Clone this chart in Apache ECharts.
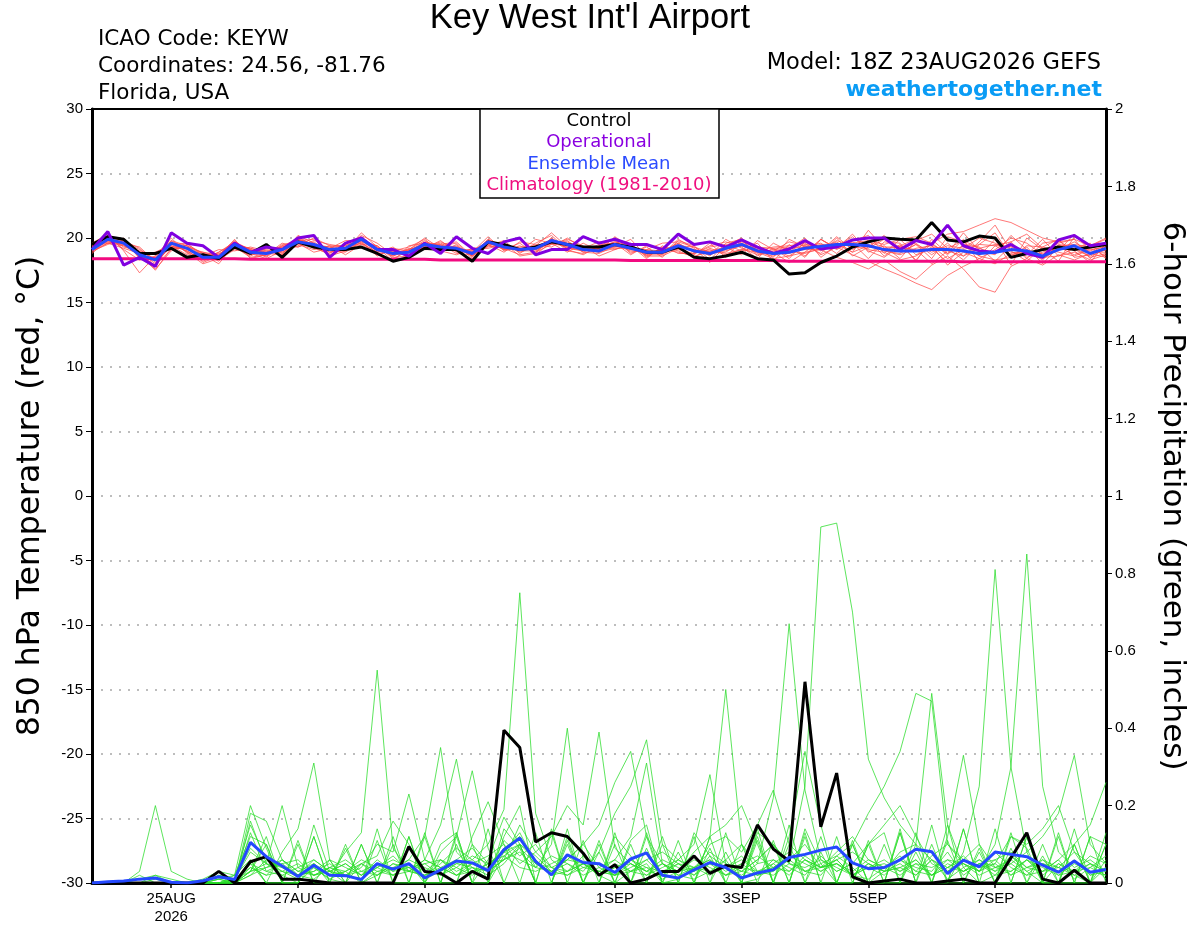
<!DOCTYPE html>
<html>
<head>
<meta charset="utf-8">
<script src="https://cdn.jsdelivr.net/npm/echarts@6/dist/echarts.min.js"></script>
<style>
  html, body { margin: 0; padding: 0; background: #fff; }
  #chart { width: 1200px; height: 927px; }
</style>
</head>
<body>
<div id="chart"></div>
<script>
// Forecast hours from 18Z 23AUG2026, every 6 hours (65 steps)
const forecastHours = Array.from({ length: 65 }, (_, i) => i * 6);
const dayTickIndex = [5, 13, 21, 33, 41, 49, 57];
const dayTickLabels = ['25AUG\n2026', '27AUG', '29AUG', '1SEP', '3SEP', '5SEP', '7SEP'];

// 850 hPa temperature (deg C)
const controlTemp = [
  19.5,20.1,19.9,18.8,18.8,19.2,18.5,18.7,18.4,19.3,
  18.8,19.5,18.5,19.7,19.3,19.1,19.1,19.3,18.8,18.2,
  18.5,19.2,19.1,19.1,18.2,19.7,19.5,19.1,19.3,19.7,
  19.5,19.3,19.3,19.5,19.3,18.9,18.9,19.3,18.5,18.4,
  18.6,18.9,18.4,18.3,17.2,17.3,18.1,18.6,19.3,19.7,
  20.0,19.9,19.85,21.2,19.85,19.7,20.15,20.0,18.5,18.8,
  19.1,19.3,19.1,19.3,19.5
];
const operationalTemp = [
  19.1,20.5,17.9,18.5,17.8,20.4,19.6,19.4,18.5,19.6,
  18.9,19.3,19.1,20.0,20.2,18.5,19.6,20.0,19.1,19.1,
  18.6,19.6,18.8,20.1,19.2,18.8,19.7,20.0,18.7,19.1,
  19.1,20.1,19.6,19.9,19.5,19.5,19.1,20.3,19.5,19.7,
  19.3,19.85,19.3,18.8,19.15,19.8,19.15,19.3,19.85,20.0,
  20.0,19.1,19.8,19.5,21.0,19.4,19.0,18.9,19.5,18.8,
  18.5,19.85,20.2,19.4,19.6
];
const meanTemp = [
  19.1,19.9,19.6,18.7,18.3,19.6,19.2,18.5,18.5,19.5,
  18.9,18.8,19.1,19.7,19.5,19.1,19.2,19.9,19.1,18.8,
  18.9,19.5,19.3,19.2,18.8,19.7,19.3,19.1,19.2,19.8,
  19.5,19.1,19.0,19.5,19.2,18.9,18.9,19.4,19.0,18.8,
  19.2,19.5,19.0,18.8,18.9,19.2,19.35,19.5,19.5,19.4,
  19.1,19.0,19.0,19.1,19.1,19.0,18.8,18.9,19.1,19.0,
  18.6,19.1,19.4,18.8,19.2
];
const climTemp = [
  18.4,18.4,18.4,18.4,18.4,18.4,18.4,18.4,18.4,18.4,
  18.35,18.35,18.35,18.35,18.35,18.35,18.35,18.35,18.35,18.35,
  18.35,18.35,18.3,18.3,18.3,18.3,18.3,18.3,18.3,18.3,
  18.3,18.3,18.3,18.3,18.25,18.25,18.25,18.25,18.25,18.25,
  18.25,18.25,18.25,18.25,18.2,18.2,18.2,18.2,18.2,18.2,
  18.2,18.2,18.2,18.2,18.2,18.15,18.15,18.15,18.15,18.15,
  18.15,18.15,18.15,18.15,18.15
];
const memberTemp01 = [19.3,19.8,19.4,18.9,18.0,19.4,19.0,18.3,18.9,19.7,19.1,18.5,19.4,19.9,19.2,18.8,19.6,20.1,18.7,19.0,19.3,19.9,18.9,19.5,18.4,19.4,19.8,18.8,19.6,20.2,19.1,18.7,19.4,19.9,18.8,19.3,18.5,19.8,19.4,18.3,19.6,19.9,18.6,19.2,18.4,19.7,19.0,20.1,19.1,19.8,18.6,19.5,18.3,19.6,18.7,19.9,18.1,19.4,19.7,18.5,18.9,19.6,19.9,18.4,19.5];
const memberTemp02 = [19.0,19.5,20.0,18.5,17.6,19.0,19.5,18.8,18.2,19.3,18.6,19.2,18.9,19.4,20.0,19.4,18.7,19.5,19.4,18.5,18.6,19.2,19.8,18.9,18.9,20.1,19.0,19.4,18.9,19.5,19.9,19.4,18.6,19.1,19.6,18.5,19.3,19.0,18.5,19.2,18.8,19.1,19.6,18.2,19.5,18.6,19.9,19.2,20.3,18.9,19.4,18.4,19.8,20.3,19.2,18.3,19.5,20.4,18.6,19.3,18.0,19.3,18.7,19.2,18.6];
const memberTemp03 = [19.4,20.2,19.1,18.3,18.6,20.0,18.8,18.6,19.1,19.0,19.3,19.0,18.7,20.2,19.6,18.6,19.0,20.4,19.3,18.2,19.4,19.6,19.5,19.7,18.6,19.5,18.9,19.7,19.5,19.3,20.0,19.2,19.7,19.8,18.9,19.1,19.6,19.7,19.3,18.6,19.9,19.2,18.7,19.0,19.7,19.4,18.8,20.0,18.6,19.3,20.2,18.9,19.5,18.4,20.1,19.7,18.6,19.9,17.9,20.0,19.1,18.2,20.1,19.4,19.9];
const memberTemp04 = [18.9,19.6,19.8,19.2,18.1,19.3,19.4,18.1,18.6,19.9,18.4,18.7,19.6,19.3,19.8,19.5,19.3,19.6,18.9,19.3,18.4,19.4,19.0,18.7,19.2,19.3,19.6,18.6,18.8,20.0,19.0,18.8,19.2,19.3,19.9,18.6,18.6,19.2,18.7,19.6,18.5,19.8,19.3,18.9,18.1,18.9,19.9,19.1,19.8,20.2,18.8,19.9,18.7,19.2,18.1,19.5,19.3,18.2,19.4,18.4,19.6,19.8,19.0,18.1,19.6];
const memberTemp05 = [19.2,20.0,19.3,19.0,18.4,19.8,19.1,18.7,18.0,19.5,19.2,18.9,19.3,19.6,18.9,19.2,19.8,19.8,19.0,18.9,19.1,20.0,19.2,19.3,18.6,19.9,19.4,19.0,19.9,19.6,18.9,19.6,19.0,20.1,19.3,18.8,19.0,19.6,18.9,19.0,19.3,18.7,19.8,19.1,19.2,20.0,18.5,19.4,19.6,18.4,19.7,19.6,18.2,19.9,18.8,20.4,19.0,18.7,20.2,19.1,18.4,19.1,19.7,18.9,18.9];
const memberTemp06 = [19.5,19.7,19.5,18.6,17.9,19.1,19.3,18.9,18.7,19.8,18.8,18.4,19.0,20.0,19.4,18.9,19.1,20.2,19.6,18.7,18.8,19.3,19.6,19.0,19.0,19.6,19.2,19.3,19.4,20.4,19.3,19.0,19.5,19.6,18.7,19.4,19.2,19.3,19.1,18.9,19.1,19.6,19.1,18.5,19.9,19.3,19.6,18.8,19.9,19.5,19.0,18.8,19.5,18.9,19.4,19.2,20.0,19.6,18.9,18.7,19.9,18.6,19.2,19.6,18.4];
const memberTemp07 = [19.1,20.1,19.9,18.4,18.5,19.7,18.9,18.0,18.4,19.4,19.0,19.1,18.8,19.8,19.9,19.0,18.9,19.7,18.6,19.2,19.0,19.7,19.4,19.6,18.5,19.8,19.1,19.6,18.7,19.7,19.6,18.9,18.8,19.4,19.4,18.4,19.4,18.8,18.8,19.4,19.7,19.3,18.4,19.6,19.0,18.8,19.2,19.7,18.9,20.6,19.2,19.3,19.1,18.0,19.0,18.6,19.7,21.0,19.0,18.2,19.3,19.9,18.5,18.7,19.3];
const memberTemp08 = [18.8,19.9,19.6,19.3,18.2,19.5,19.6,18.6,18.8,19.2,18.7,19.3,19.2,19.5,19.1,19.4,19.4,19.9,19.2,18.6,19.2,19.1,19.1,19.1,19.1,19.2,19.5,18.9,19.3,19.9,19.4,19.3,19.3,19.7,19.1,19.0,18.7,19.9,19.2,18.1,19.4,20.0,19.0,19.3,19.4,19.6,18.7,19.3,20.1,19.0,18.5,19.4,19.9,19.4,17.9,18.9,18.4,19.1,20.0,19.6,18.7,19.4,19.5,19.3,19.0];
const memberTemp09 = [19.3,19.6,19.2,18.8,17.5,19.2,19.2,18.4,18.5,19.6,19.1,18.6,19.5,19.6,19.3,18.7,19.2,19.6,18.9,19.1,18.7,19.5,19.3,19.2,18.8,19.6,19.3,19.2,19.1,19.8,19.2,19.1,18.9,19.2,19.2,18.7,19.1,18.9,18.6,18.9,19.0,19.4,18.9,18.4,18.6,18.9,19.1,18.5,18.1,17.6,18.3,17.4,16.8,17.9,18.6,17.6,16.2,15.8,17.8,18.4,17.9,18.7,18.3,18.8,18.5];
const memberTemp10 = [19.0,19.8,19.7,18.5,18.3,19.4,18.7,18.5,18.3,19.1,18.9,19.0,19.0,19.9,19.5,19.3,19.0,19.8,19.4,18.4,19.0,19.4,19.5,18.8,18.7,19.9,19.1,19.1,19.3,19.6,19.7,19.1,19.1,19.5,19.0,18.9,18.8,19.5,18.9,19.1,18.7,19.1,18.9,18.6,19.1,19.5,19.4,19.3,18.7,18.2,17.6,17.1,16.5,16.0,17.1,17.8,18.4,18.0,18.8,19.1,18.5,18.6,18.9,18.3,18.7];
const memberTemp11 = [19.4,19.9,19.8,18.9,18.7,19.6,19.4,18.6,18.6,19.5,19.0,18.9,19.1,19.6,19.6,19.0,19.2,19.9,19.0,18.8,19.0,19.6,19.2,19.3,18.9,19.6,19.4,19.0,19.0,19.7,19.5,19.1,19.1,19.4,19.1,19.1,19.0,19.4,19.0,18.7,19.2,19.5,19.1,18.8,18.8,19.2,19.5,19.5,19.6,19.8,19.5,19.9,20.1,19.6,20.3,20.5,21.0,21.5,21.2,20.6,20.0,19.7,19.9,19.4,20.0];
const memberTemp12 = [19.2,19.7,19.5,18.7,18.9,19.5,19.0,18.2,18.7,19.7,18.8,18.6,19.3,19.8,19.3,19.2,19.0,20.0,19.1,18.9,18.9,19.4,19.4,19.0,18.9,19.8,19.2,19.2,19.2,19.9,19.4,19.2,19.2,19.3,19.3,18.8,18.9,19.4,19.1,18.7,19.2,19.4,19.0,18.9,19.2,19.3,19.3,19.6,19.3,19.2,19.9,19.3,19.0,19.5,18.8,19.4,18.6,18.3,18.5,19.4,19.3,19.0,20.3,19.0,19.4];
const memberTemp13 = [19.6,20.3,19.0,17.3,18.6,19.8,19.4,18.8,18.6,19.4,19.2,18.8,18.7,20.1,19.4,19.1,19.5,19.7,19.2,18.6,19.1,19.5,19.1,19.4,18.6,19.5,19.5,19.0,19.4,19.5,19.8,18.9,19.4,19.1,19.5,18.6,19.2,19.1,18.8,19.3,19.5,19.0,19.3,19.2,19.3,18.5,19.9,19.2,19.7,19.1,18.9,18.3,18.6,19.3,19.2,19.8,19.2,18.8,19.7,20.3,19.2,18.9,18.6,19.1,19.3];
const memberTemp14 = [19.0,19.6,19.4,18.8,17.8,19.7,18.9,18.9,18.5,19.3,18.5,18.7,19.4,19.3,19.7,18.9,19.1,19.5,18.8,19.0,18.7,19.3,19.7,19.2,18.7,19.4,19.2,18.7,18.9,20.0,19.2,19.0,19.2,19.7,19.4,18.7,18.7,19.4,19.3,18.9,18.9,19.7,19.2,18.7,19.0,19.1,19.1,19.8,19.4,19.7,19.3,19.3,19.6,18.7,19.6,18.6,19.2,19.5,19.3,18.8,18.8,19.2,19.1,18.6,19.1];
const memberTemp15 = [19.3,19.8,19.7,19.1,18.3,19.3,19.2,18.4,18.9,19.6,19.1,18.8,18.9,19.9,19.4,19.3,19.4,19.8,19.3,18.7,19.1,19.8,19.0,19.1,19.0,19.7,19.1,19.2,19.1,19.6,19.3,19.2,18.9,19.6,19.2,19.0,18.9,19.6,18.9,18.8,19.3,19.5,18.8,19.1,18.6,19.4,19.3,19.5,18.9,19.4,19.0,18.7,19.2,19.4,18.4,19.1,19.5,19.4,18.7,19.0,18.3,19.5,19.3,18.5,18.8];

// 6-hour precipitation (inches)
const controlPrecip = [
  0,0,0,0,0,0,0,0,0.03,0,
  0.055,0.068,0.01,0.01,0.005,0,0,0,0,0,
  0.094,0.03,0.025,0,0.03,0.01,0.395,0.35,0.106,0.13,
  0.12,0.077,0.02,0.047,0,0.01,0.03,0.03,0.07,0.025,
  0.045,0.04,0.15,0.088,0.057,0.52,0.145,0.284,0.016,0,
  0.005,0.01,0,0,0.005,0.01,0,0,0.065,0.13,
  0.01,0,0.033,0,0
];
const meanPrecip = [
  0,0.003,0.005,0.01,0.013,0.002,0,0.006,0.016,0.009,
  0.105,0.068,0.044,0.017,0.046,0.02,0.019,0.009,0.05,0.036,
  0.05,0.013,0.034,0.057,0.052,0.032,0.086,0.116,0.056,0.021,
  0.073,0.053,0.05,0.027,0.062,0.078,0.02,0.013,0.034,0.053,
  0.04,0.013,0.026,0.034,0.066,0.074,0.085,0.093,0.052,0.037,
  0.04,0.06,0.087,0.081,0.024,0.059,0.042,0.08,0.074,0.068,
  0.046,0.028,0.057,0.028,0.035
];
const memberPrecip01 = [0,0,0,0.03,0.2,0.03,0.01,0,0.02,0.01,0.08,0.05,0.02,0,0.04,0.01,0,0,0.03,0.02,0.05,0,0.06,0.02,0.04,0.01,0.08,0.12,0.04,0.1,0.4,0.06,0.02,0,0.03,0.05,0,0.01,0.04,0.02,0.06,0,0.01,0.05,0.08,0.03,0.02,0.07,0.04,0,0.03,0.05,0.02,0.06,0.01,0.04,0,0.02,0.07,0.03,0,0.05,0.02,0,0.04];
const memberPrecip02 = [0,0,0,0,0.01,0,0,0,0.01,0.02,0.2,0.09,0,0,0.12,0,0,0,0.14,0,0,0,0.1,0.13,0,0,0.14,0.09,0,0,0.12,0,0.08,0,0.11,0.15,0,0,0,0.12,0,0,0.13,0.1,0,0.14,0.05,0,0,0.1,0.13,0,0.08,0,0.15,0,0.09,0,0,0.12,0,0,0.14,0,0];
const memberPrecip03 = [0,0,0,0.01,0.02,0.01,0,0,0,0.01,0.15,0.06,0.04,0.02,0.03,0.05,0.02,0.01,0.04,0.07,0.03,0.02,0.05,0.09,0.06,0.03,0.11,0.07,0.1,0.04,0.02,0.05,0.03,0.06,0.12,0.31,0.05,0.02,0.01,0.03,0.04,0.07,0.02,0.03,0.06,0.1,0.04,0.05,0.02,0.01,0.04,0.07,0.03,0.02,0.06,0.05,0.03,0.08,0.04,0.02,0.03,0.06,0.01,0.04,0.07];
const memberPrecip04 = [0,0,0,0,0,0,0,0.01,0.03,0.02,0.12,0.1,0,0,0.15,0.03,0,0.1,0,0,0.12,0,0,0.13,0,0.06,0.17,0.1,0,0,0.14,0,0,0.1,0,0.09,0,0,0.13,0.07,0,0,0.12,0,0.15,0,0.08,0,0.11,0,0,0.13,0,0.1,0,0.14,0,0,0.12,0.09,0,0,0.1,0,0.13];
const memberPrecip05 = [0,0,0,0,0.02,0,0,0,0.01,0,0.18,0.16,0.06,0.02,0.01,0.04,0.03,0,0.02,0.05,0.04,0.01,0.03,0.06,0.09,0.04,0.08,0.13,0.05,0.03,0.06,0.1,0.04,0.02,0.05,0.03,0.02,0.06,0.1,0.28,0.05,0.03,0.02,0.06,0.04,0.02,0.07,0.03,0.05,0.04,0.02,0.06,0.04,0.03,0.08,0.02,0.05,0.03,0.07,0.04,0.06,0.02,0.03,0.05,0.01];
const memberPrecip06 = [0,0,0,0,0,0,0,0,0.02,0.01,0.09,0.05,0.2,0.04,0.02,0.03,0.05,0.02,0.06,0.03,0.04,0.05,0.02,0.04,0.07,0.05,0.06,0.15,0.08,0.04,0.03,0.07,0.02,0.05,0.03,0.04,0.01,0.03,0.08,0.12,0.5,0.1,0.03,0.04,0.07,0.05,0.03,0.06,0.02,0.04,0.05,0.03,0.06,0.02,0.04,0.07,0.03,0.05,0.02,0.06,0.03,0.04,0.08,0.02,0.03];
const memberPrecip07 = [0,0,0,0,0,0,0,0,0,0.02,0.06,0,0.08,0.14,0.31,0.06,0,0,0.11,0,0,0.13,0,0,0.1,0,0.12,0.2,0,0,0.1,0,0,0.12,0.07,0,0,0.11,0,0,0.08,0,0.14,0,0.1,0,0,0.12,0,0,0.1,0,0,0.15,0,0,0.08,0,0.13,0,0.07,0,0,0.12,0];
const memberPrecip08 = [0,0,0,0,0,0,0,0,0,0,0.04,0.02,0.03,0.01,0.05,0.02,0.08,0.13,0.55,0.09,0.03,0.02,0.04,0.06,0.03,0.04,0.09,0.12,0.05,0.03,0.02,0.04,0.05,0.02,0.03,0.06,0.02,0.05,0.04,0.03,0.06,0.1,0.05,0.22,0.67,0.24,0.06,0.04,0.02,0.05,0.03,0.04,0.02,0.06,0.04,0.03,0.05,0.02,0.03,0.06,0.04,0.02,0.05,0.03,0.02];
const memberPrecip09 = [0,0,0,0,0,0,0,0,0.01,0,0.05,0,0,0.1,0,0.06,0,0.05,0.07,0.16,0.1,0,0,0.12,0,0,0.07,0.1,0,0.13,0,0,0.11,0,0,0.13,0,0,0.12,0,0,0.1,0,0,0.12,0.34,0.15,0,0,0.11,0,0,0.1,0,0,0.14,0,0,0.09,0,0,0.13,0,0,0.1];
const memberPrecip10 = [0,0,0,0,0,0,0,0,0,0.01,0.03,0.04,0.05,0.02,0.06,0.03,0.02,0.04,0.1,0.08,0.23,0.06,0.04,0.02,0.03,0.05,0.08,0.1,0.06,0.02,0.03,0.05,0.02,0.04,0.05,0.02,0.04,0.06,0.03,0.05,0.02,0.03,0.06,0.1,0.05,0.25,0.92,0.93,0.7,0.32,0.22,0.15,0.1,0.06,0.03,0.05,0.02,0.04,0.03,0.06,0.02,0.05,0.03,0.04,0.02];
const memberPrecip11 = [0,0,0,0,0,0,0,0,0,0,0.16,0.05,0.03,0.02,0.04,0.01,0.03,0.05,0.02,0.04,0.06,0.12,0.35,0.08,0.04,0.02,0.05,0.1,0.07,0.03,0.05,0.02,0.04,0.06,0.03,0.02,0.05,0.03,0.04,0.06,0.03,0.05,0.02,0.04,0.06,0.03,0.05,0.07,0.1,0.18,0.25,0.34,0.49,0.47,0.1,0.05,0.03,0.06,0.02,0.04,0.05,0.03,0.06,0.02,0.04];
const memberPrecip12 = [0,0,0,0,0,0,0,0,0,0,0.13,0.03,0.05,0.06,0.02,0.04,0.02,0.03,0.05,0.02,0.03,0.06,0.15,0.32,0.1,0.05,0.07,0.04,0.03,0.05,0.07,0.04,0.03,0.02,0.06,0.04,0.03,0.05,0.02,0.07,0.04,0.02,0.05,0.06,0.03,0.07,0.04,0.06,0.08,0.05,0.03,0.08,0.1,0.49,0.15,0.04,0.06,0.03,0.05,0.02,0.06,0.04,0.02,0.05,0.03];
const memberPrecip13 = [0,0,0,0,0,0,0,0,0,0,0.03,0.12,0,0,0.05,0,0.1,0,0,0.12,0,0,0.08,0.12,0.29,0.09,0,0,0.13,0,0,0.11,0,0,0.1,0,0.12,0,0,0.09,0,0,0.11,0,0,0.13,0,0,0.1,0,0,0.14,0,0,0.12,0.33,0.1,0,0,0.12,0,0,0.1,0,0.06];
const memberPrecip14 = [0,0,0,0,0,0,0,0,0,0,0.06,0,0,0.11,0,0,0.09,0,0,0.1,0,0.12,0,0,0.12,0.21,0.1,0,0,0.14,0,0,0.1,0,0,0.12,0,0.08,0,0,0.13,0,0,0.11,0,0,0.12,0,0,0.1,0,0,0.13,0,0,0.08,0.25,0.81,0.3,0.08,0,0.12,0,0,0.1];
const memberPrecip15 = [0,0,0,0,0,0,0,0,0,0,0.02,0.04,0.06,0.03,0.02,0.03,0.05,0.02,0.04,0.06,0.04,0.02,0.03,0.05,0.06,0.1,0.19,0.75,0.18,0.06,0.03,0.05,0.02,0.04,0.06,0.03,0.05,0.02,0.04,0.06,0.02,0.04,0.03,0.05,0.02,0.06,0.03,0.05,0.02,0.04,0.06,0.03,0.05,0.02,0.04,0.06,0.03,0.1,0.3,0.85,0.25,0.08,0.04,0.06,0.03];
const memberPrecip16 = [0,0,0,0,0,0,0,0,0,0,0.05,0.03,0.02,0.04,0.06,0.03,0.02,0.05,0.03,0.04,0.03,0.05,0.06,0.03,0.05,0.07,0.1,0.05,0.08,0.12,0.2,0.15,0.39,0.09,0.05,0.03,0.06,0.04,0.02,0.05,0.04,0.06,0.03,0.02,0.05,0.03,0.04,0.06,0.02,0.05,0.03,0.04,0.06,0.02,0.05,0.03,0.06,0.04,0.05,0.08,0.12,0.18,0.33,0.1,0.05];
const memberPrecip17 = [0,0,0,0,0,0,0,0,0,0,0.03,0.05,0.04,0.02,0.03,0.06,0.04,0.02,0.05,0.03,0.06,0.04,0.02,0.05,0.04,0.03,0.06,0.09,0.05,0.04,0.06,0.1,0.15,0.26,0.34,0.12,0.05,0.03,0.06,0.04,0.02,0.05,0.07,0.04,0.03,0.06,0.04,0.05,0.03,0.06,0.04,0.02,0.05,0.04,0.06,0.03,0.05,0.06,0.08,0.04,0.03,0.06,0.1,0.15,0.26];
const memberPrecip18 = [0,0,0,0,0,0,0,0,0,0.01,0.04,0.02,0.06,0.03,0.05,0.02,0.03,0.06,0.04,0.02,0.05,0.03,0.06,0.04,0.02,0.05,0.08,0.06,0.04,0.07,0.05,0.03,0.08,0.18,0.25,0.37,0.1,0.06,0.04,0.08,0.05,0.03,0.06,0.1,0.05,0.04,0.06,0.03,0.05,0.1,0.15,0.2,0.12,0.05,0.03,0.06,0.1,0.04,0.06,0.03,0.05,0.04,0.03,0.07,0.05];
const memberPrecip19 = [0,0,0,0,0,0,0,0,0,0,0.02,0.06,0.03,0.05,0.02,0.04,0.06,0.03,0.02,0.05,0.03,0.06,0.04,0.02,0.05,0.03,0.06,0.08,0.04,0.03,0.06,0.05,0.03,0.02,0.04,0.06,0.08,0.05,0.03,0.1,0.12,0.08,0.15,0.24,0.1,0.06,0.04,0.08,0.12,0.06,0.04,0.06,0.03,0.07,0.1,0.06,0.04,0.05,0.12,0.1,0.14,0.2,0.08,0.05,0.03];
const memberPrecip20 = [0,0,0,0.02,0,0,0,0,0,0,0.03,0.1,0,0,0.12,0,0,0.1,0,0,0.12,0,0,0.1,0,0.14,0,0.1,0,0,0.11,0,0,0.13,0,0,0.1,0,0,0.12,0.15,0.2,0.1,0,0,0.12,0,0,0.1,0,0,0.13,0,0,0.11,0,0,0.14,0,0,0.1,0,0,0.12,0.1];

const tempMembers = [
  memberTemp01, memberTemp02, memberTemp03, memberTemp04, memberTemp05,
  memberTemp06, memberTemp07, memberTemp08, memberTemp09, memberTemp10,
  memberTemp11, memberTemp12, memberTemp13, memberTemp14, memberTemp15
];
const precipMembers = [
  memberPrecip01, memberPrecip02, memberPrecip03, memberPrecip04, memberPrecip05,
  memberPrecip06, memberPrecip07, memberPrecip08, memberPrecip09, memberPrecip10,
  memberPrecip11, memberPrecip12, memberPrecip13, memberPrecip14, memberPrecip15,
  memberPrecip16, memberPrecip17, memberPrecip18, memberPrecip19, memberPrecip20
];

const FONT = '"Liberation Sans", Arial, Helvetica, sans-serif';
const WIDE = '"DejaVu Sans", Verdana, sans-serif';
const isDayTick = (index) => dayTickIndex.indexOf(index) !== -1;

function thinLine(data, color, axis) {
  return {
    type: 'line',
    yAxisIndex: axis,
    data: data,
    symbol: 'none',
    silent: true,
    z: 2,
    lineStyle: { color: color, width: 0.8, opacity: 0.95 }
  };
}

function thickLine(name, data, color, axis, z) {
  return {
    name: name,
    type: 'line',
    yAxisIndex: axis,
    data: data,
    symbol: 'none',
    silent: true,
    z: z,
    lineStyle: { color: color, width: 3 }
  };
}

const series = [];
precipMembers.forEach(m => series.push(thinLine(m, '#28dc28', 1)));
tempMembers.forEach(m => series.push(thinLine(m, '#ff4a4a', 0)));
series.push(thickLine('Climatology', climTemp, '#f20a80', 0, 4));
series.push(thickLine('Control', controlTemp, '#000000', 0, 5));
series.push(thickLine('Operational', operationalTemp, '#8000e0', 0, 6));
series.push(thickLine('Ensemble Mean', meanTemp, '#2448ff', 0, 7));
series.push(thickLine('Control precip', controlPrecip, '#000000', 1, 5));
series.push(thickLine('Mean precip', meanPrecip, '#2448ff', 1, 7));

function label(x, y, text, color, font, align) {
  return {
    type: 'text',
    z: 101,
    style: { x: x, y: y, text: text, fill: color, font: font, textAlign: align, textVerticalAlign: 'middle' }
  };
}

const chart = echarts.init(document.getElementById('chart'), null, { renderer: 'canvas' });

const option = {
  animation: false,
  backgroundColor: '#ffffff',
  textStyle: { fontFamily: FONT },
  grid: {
    left: 92,
    right: 94,
    top: 109,
    bottom: 44,
    outerBoundsMode: 'none',
    containLabel: false,
    show: true,
    borderColor: '#000',
    borderWidth: 2,
    backgroundColor: 'transparent'
  },
  xAxis: {
    type: 'category',
    boundaryGap: false,
    data: forecastHours,
    axisLine: { onZero: false, lineStyle: { color: '#000', width: 3 } },
    axisTick: {
      show: true,
      interval: (index) => isDayTick(index),
      length: 5,
      lineStyle: { color: '#000', width: 1.5 }
    },
    axisLabel: {
      interval: (index) => isDayTick(index),
      formatter: (value, index) => {
        const k = dayTickIndex.indexOf(index);
        return k === -1 ? '' : dayTickLabels[k];
      },
      color: '#000',
      fontSize: 15,
      lineHeight: 18,
      margin: 7,
      fontFamily: FONT
    },
    splitLine: { show: false }
  },
  yAxis: [
    {
      type: 'value',
      position: 'left',
      min: -30,
      max: 30,
      interval: 5,
      name: '850 hPa Temperature (red, \u00B0C)',
      nameLocation: 'middle',
      nameRotate: 90,
      nameGap: 45,
      nameTextStyle: { color: '#000', fontSize: 31.5, fontFamily: WIDE },
      axisLine: { show: true, lineStyle: { color: '#000', width: 3 } },
      axisTick: { show: true, length: 6, lineStyle: { color: '#000', width: 1 } },
      axisLabel: { color: '#000', fontSize: 15, margin: 9, fontFamily: FONT },
      splitLine: {
        show: true,
        showMinLine: false,
        showMaxLine: false,
        lineStyle: { color: '#a8a8a8', width: 1.5, type: [2, 7] }
      }
    },
    {
      type: 'value',
      position: 'right',
      min: 0,
      max: 2,
      interval: 0.2,
      name: '6-hour Precipitation (green, inches)',
      nameLocation: 'middle',
      nameRotate: -90,
      nameGap: 51,
      nameTextStyle: { color: '#000', fontSize: 31, fontFamily: WIDE },
      axisLine: { show: true, lineStyle: { color: '#000', width: 3 } },
      axisTick: { show: true, length: 6, lineStyle: { color: '#000', width: 1 } },
      axisLabel: { color: '#000', fontSize: 15, margin: 9, fontFamily: FONT },
      splitLine: { show: false }
    }
  ],
  series: series,
  graphic: [
    {
      type: 'line', z: 99,
      shape: { x1: 92, y1: 109, x2: 1106, y2: 109 },
      style: { stroke: '#000', lineWidth: 2 }
    },
    label(590, 18, "Key West Int'l Airport", '#000', '34.5px ' + FONT, 'center'),
    label(98, 39, 'ICAO Code: KEYW', '#000', '21.5px ' + WIDE, 'left'),
    label(98, 66, 'Coordinates: 24.56, -81.76', '#000', '21.5px ' + WIDE, 'left'),
    label(98, 93, 'Florida, USA', '#000', '21.5px ' + WIDE, 'left'),
    label(1101, 63, 'Model: 18Z 23AUG2026 GEFS', '#000', '22.5px ' + WIDE, 'right'),
    label(1102, 90, 'weathertogether.net', '#0a9cf5', 'bold 22px ' + WIDE, 'right'),
    {
      type: 'rect', z: 100,
      shape: { x: 480, y: 109, width: 239, height: 89 },
      style: { fill: '#fff', stroke: '#000', lineWidth: 1.5 }
    },
    label(599, 121, 'Control', '#000', '18px ' + WIDE, 'center'),
    label(599, 142, 'Operational', '#8a00e0', '18px ' + WIDE, 'center'),
    label(599, 164, 'Ensemble Mean', '#2b4bff', '18px ' + WIDE, 'center'),
    label(599, 185, 'Climatology (1981-2010)', '#ef0f7f', '18px ' + WIDE, 'center')
  ]
};

chart.setOption(option);
</script>
</body>
</html>
